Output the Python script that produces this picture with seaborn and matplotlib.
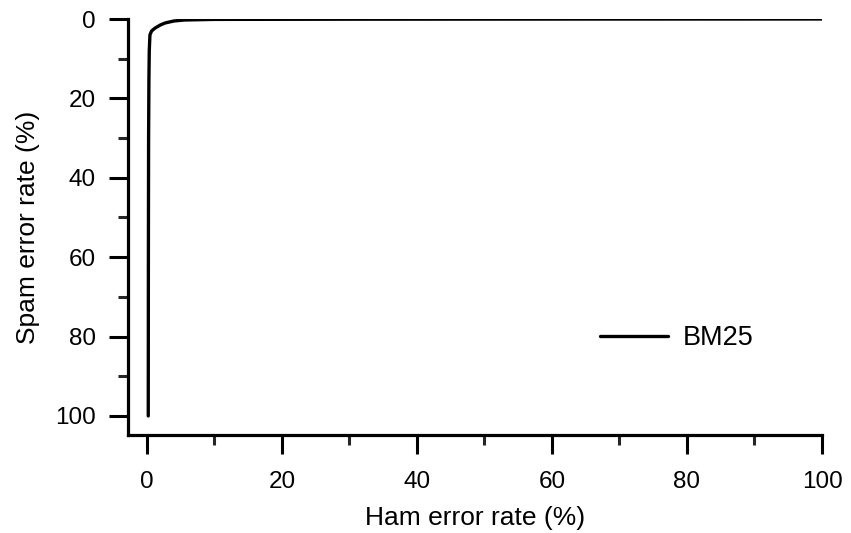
import matplotlib
matplotlib.use("Agg")
import matplotlib.pyplot as plt
import seaborn as sns
import pandas as pd

# ROC-style curve (ham error %, spam error %)
ham_error = [0.2, 0.22, 0.25, 0.3, 0.35, 0.45, 0.7, 1.2, 2.0, 2.7, 4.0, 5.6, 10, 30, 60, 100]
spam_error = [100, 60, 30, 15, 8, 4.0, 3.0, 2.3, 1.5, 1.0, 0.5, 0.25, 0.1, 0.05, 0.02, 0.0]
method = "BM25"

x_ticks = [0, 20, 40, 60, 80, 100]
y_ticks = [0, 20, 40, 60, 80, 100]


def main():
    df = pd.DataFrame({"ham": ham_error, "spam": spam_error})

    sns.set_theme(style="ticks")
    plt.rcParams["font.family"] = ["Liberation Sans", "DejaVu Sans"]
    plt.rcParams["text.color"] = "black"
    plt.rcParams["axes.labelcolor"] = "black"

    fig = plt.figure(figsize=(8.51, 5.33), dpi=100)
    ax = fig.add_axes([128 / 851, 1 - 435 / 533, (822 - 128) / 851, (435 - 19) / 533])

    sns.lineplot(data=df, x="ham", y="spam", sort=False, estimator=None,
                 color="black", linewidth=2.4, label=method, ax=ax)

    ax.set_xlim(-2.8, 100)
    ax.set_ylim(104.8, 0)
    ax.set_xticks(x_ticks)
    ax.set_yticks(y_ticks)
    ax.set_xticks([10, 30, 50, 70, 90], minor=True)
    ax.set_yticks([10, 30, 50, 70, 90], minor=True)
    ax.tick_params(which="major", length=14, width=2.2, labelsize=17.5, colors="black")
    ax.tick_params(which="minor", length=7, width=2.2)
    ax.tick_params(axis="x", which="major", pad=12)
    ax.tick_params(axis="y", which="major", pad=9)

    for side in ["top", "right"]:
        ax.spines[side].set_visible(False)
    for side in ["left", "bottom"]:
        ax.spines[side].set_linewidth(2.3)
        ax.spines[side].set_color("black")

    ax.set_xlabel("Ham error rate (%)", fontsize=19, labelpad=9)
    ax.set_ylabel("Spam error rate (%)", fontsize=19, labelpad=11)

    ax.legend(loc="center left", bbox_to_anchor=(600 / 851, 1 - 338 / 533),
              bbox_transform=fig.transFigure, frameon=False, fontsize=19.5,
              handlelength=2.5, handletextpad=0.55, borderpad=0, borderaxespad=0)

    fig.savefig("out.png", dpi=100)
    plt.close(fig)


if __name__ == "__main__":
    main()
